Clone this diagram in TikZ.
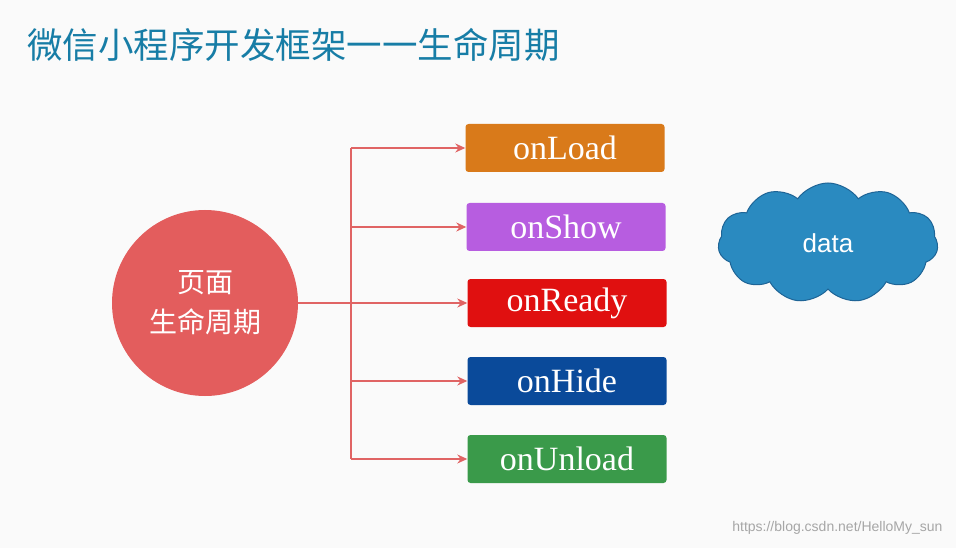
\documentclass[tikz,border=0pt]{standalone}
\usepackage{fontspec}
\newfontfamily\cjk{Noto Sans CJK SC}
\newfontfamily\sans{Liberation Sans}
\setmainfont{Liberation Serif}
\usetikzlibrary{shapes.symbols,arrows.meta}
\definecolor{titlec}{HTML}{177DA6}
\definecolor{circ}{HTML}{E35D5D}
\definecolor{conn}{HTML}{E06464}
\tikzset{
 evbox/.style={rounded corners=3pt,minimum width=199pt,minimum height=48pt,text=white,font=\fontsize{34}{34}\selectfont,inner sep=0pt},
 arr/.style={draw=conn,line width=1.2pt,-{Stealth[length=10pt,width=9pt]}}
}
\begin{document}
\begin{tikzpicture}[x=1pt,y=-1pt]
\fill[white!96!gray] (0,0) rectangle (956,548);
\useasboundingbox (0,0) rectangle (956,548);
\node[anchor=west,inner sep=0pt,text=titlec,font=\cjk\fontsize{35.5}{36}\selectfont] (title) at (27,45) {微信小程序开发框架一一生命周期};
\node[circle,fill=circ,minimum size=186pt,text=white,align=center,font=\cjk\fontsize{28}{40}\selectfont] (c) at (205,303) {页面\\生命周期};
\node[evbox,fill={rgb,255:red,217;green,122;blue,26}] (l) at (565,148) {onLoad};
\node[evbox,fill={rgb,255:red,183;green,93;blue,224}] (s) at (566,227) {onShow};
\node[evbox,fill={rgb,255:red,224;green,16;blue,16}] (r) at (567,303) {onReady};
\node[evbox,fill={rgb,255:red,10;green,74;blue,154}] (h) at (567,381) {onHide};
\node[evbox,fill={rgb,255:red,58;green,154;blue,74}] (u) at (567,459) {onUnload};
\coordinate (j) at (351,303);
\draw[conn,line width=1.2pt] (c.east) -- (j);
\draw[conn,line width=1.2pt] (351,148) -- (351,459);
\foreach \n in {l,s,r,h,u}{\draw[arr] (351,0 |- \n.west) -- (\n.west);}
\node[cloud,cloud puffs=11,cloud puff arc=110,aspect=2,fill={rgb,255:red,42;green,138;blue,192},draw={rgb,255:red,30;green,100;blue,150},line width=1pt,minimum width=220pt,minimum height=120pt,text=white,font=\sans\fontsize{26}{26}\selectfont] (d) at (828,243) {data};
\node[anchor=east,text=gray!70,font=\sans\fontsize{14}{14}\selectfont] (w) at (946,528) {https://blog.csdn.net/HelloMy\_sun};
\end{tikzpicture}
\end{document}
